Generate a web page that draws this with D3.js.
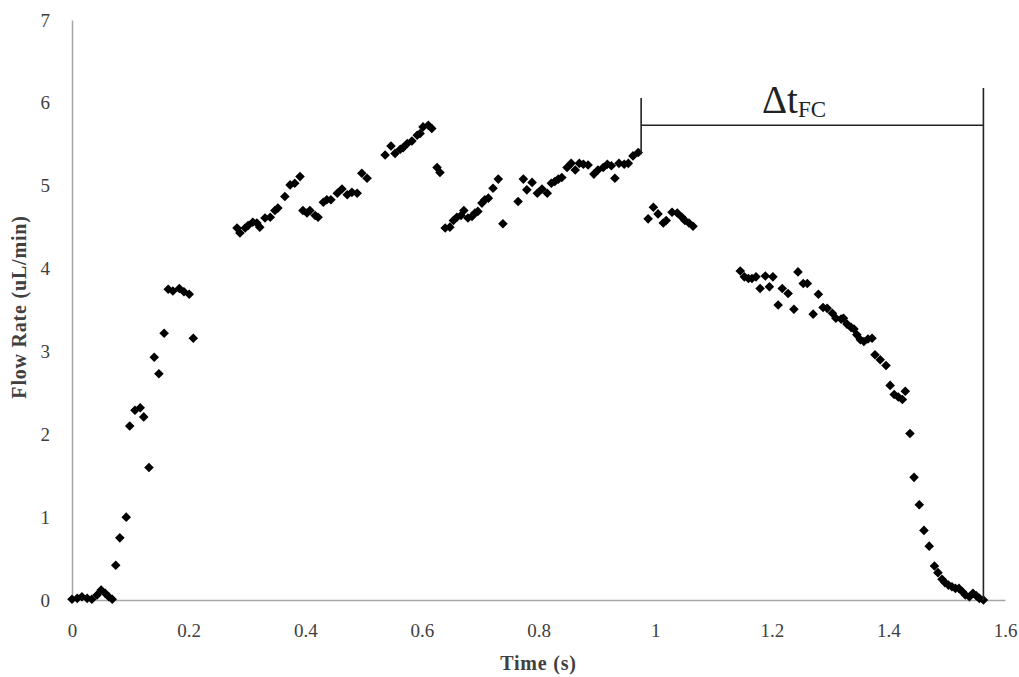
<!DOCTYPE html>
<html lang="en">
<head>
  <meta charset="UTF-8">
  <title>Flow Rate vs Time</title>
  <script src="https://d3js.org/d3.v7.min.js"></script>
  <style>
    body { margin: 0; background: #fff; }
    svg { display: block; }
  </style>
</head>
<body>
<script>
// time (s) and flow rate (uL/min)
const time = [
  0.000, 0.009, 0.017, 0.026, 0.034, 0.043, 0.050, 0.057, 0.063, 0.069,
  0.075, 0.082, 0.093, 0.099, 0.108, 0.117, 0.123, 0.132, 0.141, 0.149,
  0.158, 0.165, 0.173, 0.184, 0.192, 0.201, 0.208,
  0.283, 0.288, 0.297, 0.302, 0.310, 0.317, 0.322, 0.331, 0.340, 0.348,
  0.353, 0.365, 0.374, 0.382, 0.391, 0.396, 0.403, 0.408, 0.417, 0.422,
  0.431, 0.437, 0.444, 0.455, 0.463, 0.472, 0.480, 0.489, 0.497, 0.506,
  0.537, 0.547, 0.554, 0.563, 0.568, 0.575, 0.583, 0.592, 0.597, 0.602,
  0.611, 0.617, 0.626, 0.631,
  0.640, 0.648, 0.654, 0.660, 0.667, 0.672, 0.679, 0.686, 0.691, 0.696,
  0.703, 0.708, 0.714, 0.722, 0.731, 0.739, 0.765, 0.774, 0.780, 0.789,
  0.798, 0.806, 0.815, 0.822, 0.828, 0.834, 0.840, 0.849, 0.856, 0.863,
  0.870, 0.877, 0.885, 0.895, 0.902, 0.911, 0.918, 0.925, 0.931, 0.938,
  0.947, 0.954, 0.962, 0.971,
  0.988, 0.997, 1.005, 1.014, 1.019, 1.029, 1.038, 1.046, 1.051, 1.058, 1.065,
  1.146, 1.153, 1.160, 1.166, 1.173, 1.180, 1.189, 1.196, 1.202, 1.211,
  1.218, 1.228, 1.238, 1.245, 1.254, 1.261, 1.271, 1.280, 1.288, 1.295,
  1.304, 1.310, 1.319, 1.323, 1.329, 1.336, 1.341, 1.346, 1.352, 1.358,
  1.365, 1.372, 1.377, 1.386, 1.396, 1.403, 1.410, 1.417, 1.424, 1.429,
  1.437, 1.444, 1.453, 1.461, 1.470, 1.479, 1.485, 1.492, 1.497, 1.503,
  1.509, 1.515, 1.521, 1.527, 1.532, 1.539, 1.545, 1.551, 1.556, 1.563
];
const flowRate = [
  0.01, 0.02, 0.04, 0.02, 0.01, 0.06, 0.12, 0.08, 0.04, 0.01,
  0.42, 0.75, 1.00, 2.10, 2.29, 2.32, 2.21, 1.60, 2.93, 2.73,
  3.22, 3.75, 3.73, 3.76, 3.72, 3.69, 3.16,
  4.49, 4.43, 4.49, 4.52, 4.56, 4.55, 4.50, 4.61, 4.62, 4.70,
  4.73, 4.87, 5.01, 5.03, 5.11, 4.70, 4.67, 4.70, 4.64, 4.62,
  4.80, 4.83, 4.83, 4.91, 4.96, 4.89, 4.92, 4.91, 5.15, 5.09,
  5.37, 5.48, 5.39, 5.44, 5.46, 5.51, 5.54, 5.61, 5.63, 5.71,
  5.73, 5.69, 5.22, 5.16,
  4.49, 4.50, 4.58, 4.62, 4.64, 4.70, 4.61, 4.63, 4.67, 4.69,
  4.79, 4.83, 4.85, 4.97, 5.08, 4.54, 4.81, 5.08, 4.95, 5.04,
  4.91, 4.96, 4.91, 5.03, 5.05, 5.08, 5.10, 5.22, 5.27, 5.19,
  5.27, 5.26, 5.25, 5.14, 5.19, 5.22, 5.26, 5.24, 5.09, 5.27,
  5.26, 5.27, 5.36, 5.40,
  4.60, 4.74, 4.66, 4.55, 4.58, 4.68, 4.67, 4.62, 4.58, 4.55, 4.51,
  3.97, 3.90, 3.88, 3.88, 3.90, 3.76, 3.91, 3.78, 3.90, 3.56,
  3.76, 3.70, 3.51, 3.96, 3.82, 3.82, 3.45, 3.69, 3.53, 3.52,
  3.46, 3.40, 3.39, 3.40, 3.33, 3.29, 3.27, 3.20, 3.14, 3.12,
  3.15, 3.16, 2.96, 2.90, 2.83, 2.59, 2.48, 2.45, 2.42, 2.52,
  2.01, 1.48, 1.15, 0.84, 0.65, 0.41, 0.33, 0.25, 0.21, 0.18,
  0.16, 0.14, 0.14, 0.10, 0.06, 0.04, 0.08, 0.05, 0.02, 0.00
];

const xTicks = [0, 0.2, 0.4, 0.6, 0.8, 1, 1.2, 1.4, 1.6];
const yTicks = [0, 1, 2, 3, 4, 5, 6, 7];

// Δt_FC bracket: start/end time and bracket level
const fcStart = 0.976;
const fcEnd = 1.563;
const fcLevel = 5.73;

const width = 1019;
const height = 677;
const serif = "'Liberation Serif', 'DejaVu Serif', serif";

const x = d3.scaleLinear().domain([0, 1.6]).range([72, 1005]);
const y = d3.scaleLinear().domain([0, 7]).range([600, 20]);

const svg = d3.select("body").append("svg")
    .attr("width", width)
    .attr("height", height)
    .attr("font-family", serif);

const axisColor = "#a6a6a6";
const textColor = "#404040";

// x axis
const gx = svg.append("g")
    .attr("transform", `translate(0,${y(0)})`)
    .call(d3.axisBottom(x).tickValues(xTicks).tickSize(0).tickPadding(24)
      .tickFormat(d => String(d)))
    .attr("font-family", serif)
    .attr("font-size", 19);
gx.select(".domain").attr("stroke", axisColor).attr("stroke-width", 1.5);
gx.selectAll("text").attr("fill", textColor);

// y axis
const gy = svg.append("g")
    .attr("transform", `translate(${x(0)},0)`)
    .call(d3.axisLeft(y).tickValues(yTicks).tickSize(0).tickPadding(22)
      .tickFormat(d => String(d)))
    .attr("font-family", serif)
    .attr("font-size", 19);
gy.select(".domain").attr("stroke", axisColor).attr("stroke-width", 1.5);
gy.selectAll("text").attr("fill", textColor);

// axis titles
svg.append("text")
    .attr("x", (x(0) + x(1.6)) / 2)
    .attr("y", 670)
    .attr("text-anchor", "middle")
    .attr("font-weight", "bold")
    .attr("fill", textColor)
    .attr("font-size", 20)
    .attr("letter-spacing", 0.8)
    .text("Time (s)");

svg.append("text")
    .attr("transform", `translate(26,307) rotate(-90)`)
    .attr("text-anchor", "middle")
    .attr("font-weight", "bold")
    .attr("fill", textColor)
    .attr("font-size", 20)
    .attr("letter-spacing", 0.8)
    .text("Flow Rate (uL/min)");

// points
const points = time.map((t, i) => ({ t, v: flowRate[i] }));
const diamond = d3.symbol().type(d3.symbolSquare).size(46);

svg.append("g")
  .selectAll("path")
  .data(points)
  .join("path")
    .attr("d", diamond)
    .attr("transform", d => `translate(${x(d.t)},${y(d.v)}) rotate(45)`)
    .attr("fill", "#000");

// Δt_FC annotation
const bracket = svg.append("g")
    .attr("stroke", "#222")
    .attr("stroke-width", 1.6)
    .attr("fill", "none");

bracket.append("line")
    .attr("x1", x(fcStart)).attr("x2", x(fcStart))
    .attr("y1", y(6.06)).attr("y2", y(5.38));
bracket.append("line")
    .attr("x1", x(fcEnd)).attr("x2", x(fcEnd))
    .attr("y1", y(6.18)).attr("y2", y(0));
bracket.append("line")
    .attr("x1", x(fcStart)).attr("x2", x(fcEnd))
    .attr("y1", y(fcLevel)).attr("y2", y(fcLevel));

const label = svg.append("text")
    .attr("x", 794)
    .attr("y", 113)
    .attr("text-anchor", "middle")
    .attr("fill", "#222")
    .attr("font-size", 39);
label.append("tspan").text("\u0394t");
label.append("tspan")
    .attr("dy", 4)
    .attr("font-size", 23)
    .text("FC");
</script>
</body>
</html>
